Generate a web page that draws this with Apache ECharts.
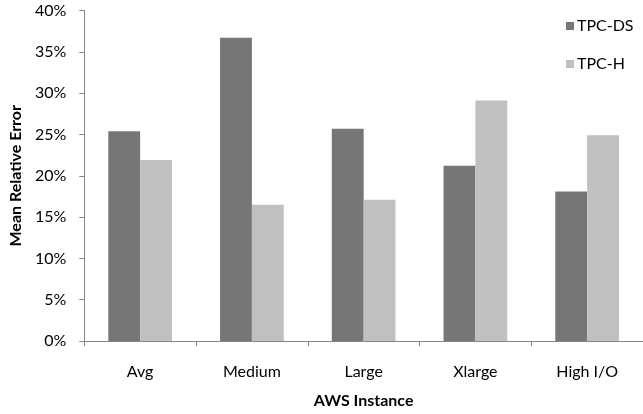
<!DOCTYPE html>
<html>
<head>
<meta charset="utf-8">
<script src="https://cdn.jsdelivr.net/npm/echarts@6/dist/echarts.min.js"></script>
<style>
  html, body { margin: 0; padding: 0; background: #fff; overflow: hidden; }
  #chart { width: 643px; height: 414px; }
</style>
</head>
<body>
<div id="chart"></div>
<script>
// Mean relative error per AWS instance type, for two benchmarks
const instances = ['Avg', 'Medium', 'Large', 'Xlarge', 'High I/O'];
const tpcDs = [25.4, 36.7, 25.7, 21.2, 18.1];
const tpcH = [21.9, 16.5, 17.1, 29.1, 24.9];
const yTicks = { min: 0, max: 40, step: 5 };

const font = 'Lato, "Open Sans", sans-serif';
const chart = echarts.init(document.getElementById('chart'), null, { renderer: 'canvas' });

chart.setOption({
  animation: false,
  backgroundColor: '#ffffff',
  grid: { left: 81, right: -4, top: 10.5, bottom: 70, containLabel: false },
  legend: {
    orient: 'vertical',
    left: 561,
    top: 13,
    itemWidth: 8,
    itemHeight: 8,
    itemGap: 22,
    icon: 'rect',
    textStyle: { fontFamily: font, fontSize: 16, color: '#000', padding: [0, 0, 0, -2] },
    data: ['TPC-DS', 'TPC-H']
  },
  xAxis: {
    type: 'category',
    data: instances,
    name: 'AWS Instance',
    nameLocation: 'middle',
    nameGap: 52,
    nameTextStyle: { fontFamily: font, fontSize: 16, fontWeight: 'bold', color: '#000' },
    axisLine: { lineStyle: { color: '#868686', width: 1 } },
    axisTick: { show: true, length: 5, lineStyle: { color: '#868686' } },
    axisLabel: { fontFamily: font, fontSize: 16, color: '#000', margin: 23 }
  },
  yAxis: {
    type: 'value',
    min: yTicks.min,
    max: yTicks.max,
    interval: yTicks.step,
    name: 'Mean Relative Error',
    nameLocation: 'middle',
    nameGap: 57,
    nameRotate: 90,
    nameTextStyle: { fontFamily: font, fontSize: 16, fontWeight: 'bold', color: '#000' },
    axisLine: { show: true, lineStyle: { color: '#868686', width: 1 } },
    axisTick: { show: true, length: 5, inside: false, lineStyle: { color: '#868686' } },
    splitLine: { show: false },
    axisLabel: { fontFamily: font, fontSize: 16, color: '#000', margin: 18, formatter: v => v + '%' }
  },
  series: [
    {
      name: 'TPC-DS',
      type: 'bar',
      data: tpcDs,
      barGap: '0%',
      barCategoryGap: '43%',
      itemStyle: { color: '#767676' }
    },
    {
      name: 'TPC-H',
      type: 'bar',
      data: tpcH,
      itemStyle: { color: '#c0c0c0' }
    }
  ]
});
</script>
</body>
</html>
